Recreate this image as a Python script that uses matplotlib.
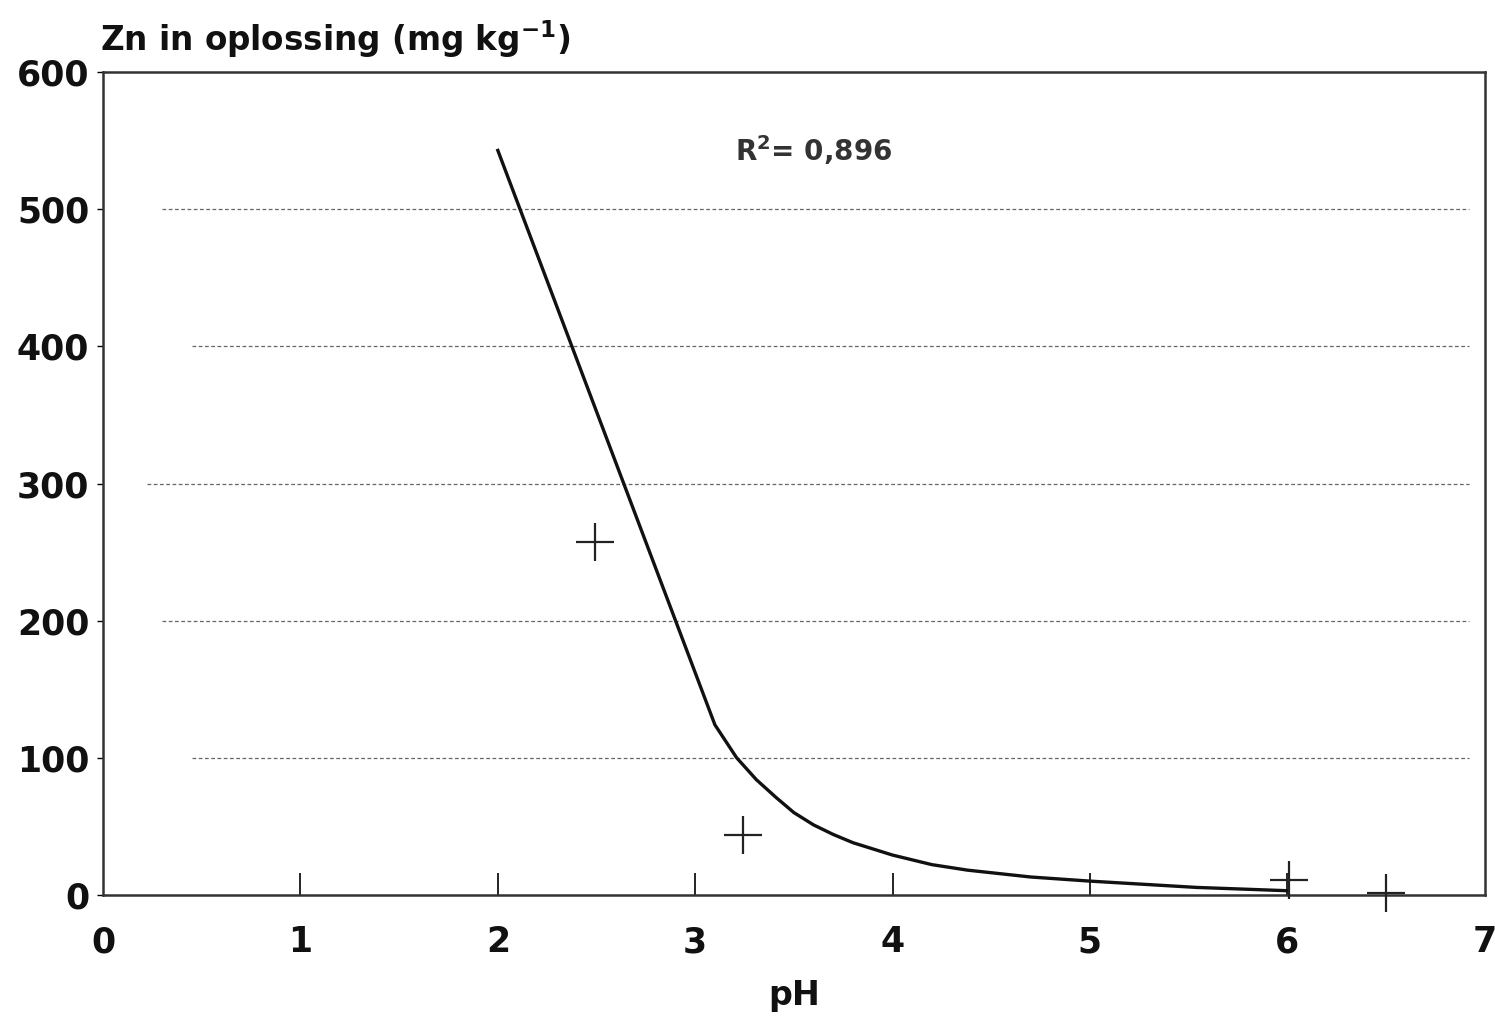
import matplotlib.pyplot as plt
import numpy as np

plt.rcParams['font.family'] = ['DejaVu Sans']

# gemeten punten
ph_meting = [2.49, 3.24, 6.01, 6.5]
zn_meting = [257, 44, 11, 1]

ph_lijn = [2.0, 3.1, 3.21, 3.31, 3.41, 3.5, 3.6, 3.7, 3.8, 4.0, 4.2, 4.38, 4.7, 5.0, 5.54, 6.0]
zn_lijn = [543, 124, 100, 84, 71, 60, 51, 44, 38, 29, 22, 18, 13, 10, 5.4, 3]

x_ticks = [0, 1, 2, 3, 4, 5, 6, 7]
y_ticks = [0, 100, 200, 300, 400, 500, 600]
grid_y = [100, 200, 300, 400, 500]
grid_start = [0.45, 0.3, 0.22, 0.45, 0.3]

fig = plt.figure(figsize=(14.95, 10.18), dpi=100)
ax = fig.add_axes([0.069, 0.121, 0.924, 0.808])

for g, s in zip(grid_y, grid_start):
    ax.plot([s, 6.92], [g, g], color='#666666', lw=0.9, ls=(0, (3, 2)), zorder=1)

ax.plot(ph_lijn, zn_lijn, color='#111111', lw=2.4, zorder=3)
ax.plot(ph_meting, zn_meting, ls='none', marker='+', ms=28, mew=1.6, color='#222222',
        zorder=4, clip_on=False)

ax.set_xlim(0, 7)
ax.set_ylim(0, 600)
ax.set_xticks(x_ticks)
ax.set_yticks(y_ticks)
ax.tick_params(axis='x', direction='in', length=16, width=1.2, labelsize=25, pad=22)
ax.tick_params(axis='y', direction='out', length=4, width=1.0, labelsize=25, pad=6)
for lbl in ax.get_xticklabels() + ax.get_yticklabels():
    lbl.set_fontweight('bold')
    lbl.set_color('#111111')
# geen tickstreepjes bij 0 en 7
xt = ax.xaxis.get_major_ticks()
xt[0].tick1line.set_visible(False)
xt[-1].tick1line.set_visible(False)

for s in ax.spines.values():
    s.set_linewidth(1.8)
    s.set_color('#333333')

ax.set_xlabel('pH', fontsize=24, fontweight='bold', color='#111111', labelpad=14)
fig.text(0.067, 0.962, 'Zn in oplossing (mg kg$^{\\mathbf{-1}}$)', fontsize=23.5,
         fontweight='bold', color='#111111', ha='left', va='center')
ax.text(3.6, 543, 'R$^{\\mathbf{2}}$= 0,896', fontsize=20, fontweight='bold',
        color='#333333', ha='center', va='center')

fig.savefig('out.png', dpi=100)
